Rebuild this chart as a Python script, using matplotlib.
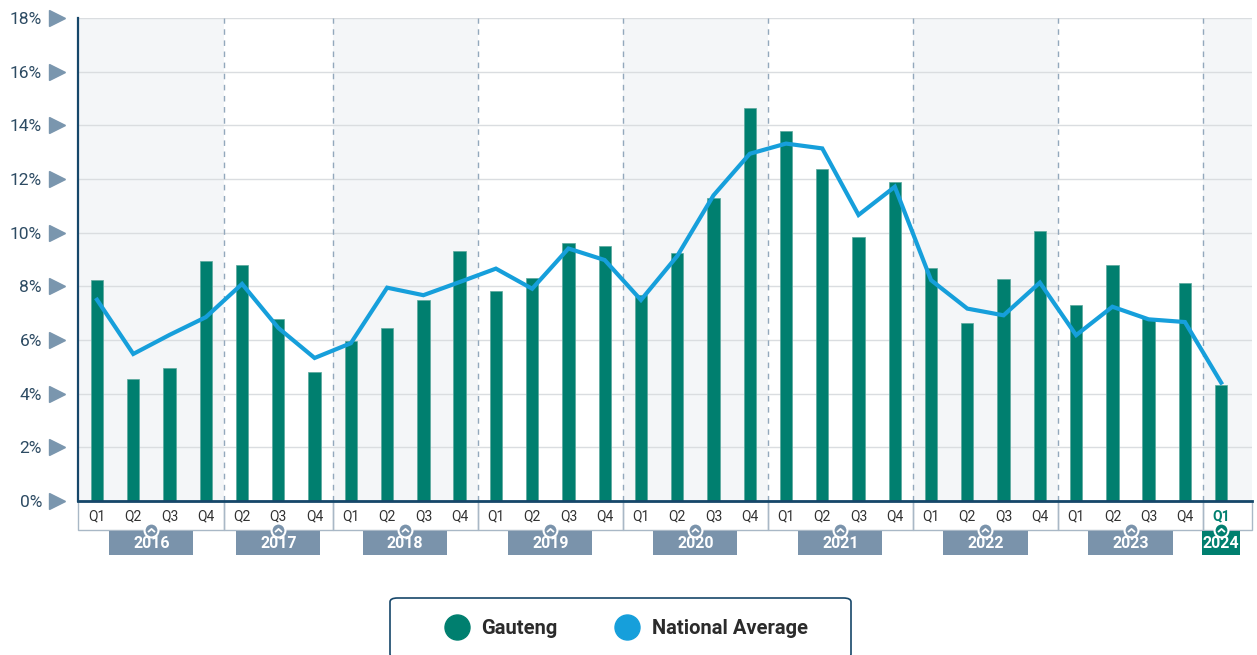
import matplotlib.pyplot as plt
import numpy as np
from matplotlib.patches import Rectangle, FancyBboxPatch
from matplotlib.path import Path
from matplotlib.lines import Line2D
from matplotlib.transforms import blended_transform_factory

plt.rcParams['font.family'] = ['Roboto', 'DejaVu Sans']

# data
years = ["2016", "2017", "2018", "2019", "2020", "2021", "2022", "2023", "2024"]
quarters = [["Q1", "Q2", "Q3", "Q4"], ["Q2", "Q3", "Q4"], ["Q1", "Q2", "Q3", "Q4"],
            ["Q1", "Q2", "Q3", "Q4"], ["Q1", "Q2", "Q3", "Q4"], ["Q1", "Q2", "Q3", "Q4"],
            ["Q1", "Q2", "Q3", "Q4"], ["Q1", "Q2", "Q3", "Q4"], ["Q1"]]
gauteng = [8.24, 4.55, 4.95, 8.96,
           8.80, 6.77, 4.80,
           5.98, 6.46, 7.48, 9.30,
           7.84, 8.32, 9.63, 9.50,
           7.66, 9.25, 11.28, 14.66,
           13.79, 12.38, 9.84, 11.87,
           8.70, 6.65, 8.29, 10.06,
           7.32, 8.78, 6.83, 8.11,
           4.31]
national = [7.50, 5.48, 6.19, 6.85,
            8.09, 6.45, 5.33,
            5.88, 7.95, 7.67, 8.16,
            8.66, 7.91, 9.41, 8.98,
            7.49, 9.13, 11.39, 12.94,
            13.32, 13.14, 10.66, 11.71,
            8.23, 7.17, 6.92, 8.14,
            6.18, 7.24, 6.77, 6.67,
            4.41]

green = "#007f6f"
blue = "#169fdb"
slate = "#7a93ab"
navy = "#16476a"

fig = plt.figure(figsize=(12.57, 6.55), dpi=100)
ax = fig.add_axes([78/1257, 1-501/655, 1174/1257, 483/655])

x = np.arange(len(gauteng))
xmin, xmax = -0.524, 31.85
ax.set_xlim(xmin, xmax)
ax.set_ylim(0, 18)

# group boundaries
starts = np.cumsum([0] + [len(q) for q in quarters])
bounds = [xmin] + [s - 0.5 for s in starts[1:-1]] + [xmax]

for i in range(len(years)):
    if i % 2 == 0:
        ax.axvspan(bounds[i], bounds[i+1], color="#f4f6f8", zorder=0, lw=0)
for b in bounds[1:-1]:
    ax.axvline(b, color="#93a8bc", lw=1, ls=(0, (4, 4)), zorder=1)

ax.set_yticks(np.arange(0, 19, 2))
ax.grid(axis="y", color="#dadde0", lw=1, zorder=1)
ax.set_axisbelow(True)
ax.tick_params(axis="y", length=0, pad=26, labelsize=12.5, labelcolor="#2d4b63")
ax.set_yticklabels([f"{v}%" for v in range(0, 19, 2)])
ax.set_xticks([])

trans = blended_transform_factory(ax.transAxes, ax.transData)
ax.plot([-0.0179]*10, np.arange(0, 19, 2), ls="none", marker=">", ms=11,
        color="#7a96ae", transform=trans, clip_on=False)

for side in ["top", "right"]:
    ax.spines[side].set_visible(False)
ax.spines["left"].set_color(navy)
ax.spines["left"].set_linewidth(1.6)
ax.spines["bottom"].set_color(navy)
ax.spines["bottom"].set_linewidth(2)
ax.spines["left"].set_zorder(5)
ax.spines["bottom"].set_zorder(5)

ax.bar(x, gauteng, width=0.34, color=green, edgecolor="#5aa89d", lw=0.5, zorder=2)
ax.plot(x, national, color=blue, lw=3, zorder=3, solid_joinstyle="miter")

# quarter row and year boxes
tb = blended_transform_factory(ax.transData, ax.transAxes)
row_h = 29/483
chev = Path([(-1, -0.45), (0, 0.45), (1, -0.45)], [Path.MOVETO, Path.LINETO, Path.LINETO])
for i, yr in enumerate(years):
    last = i == len(years) - 1
    ax.add_patch(Rectangle((bounds[i], -row_h), bounds[i+1]-bounds[i], row_h,
                           transform=tb, fill=False, ec="#a9b8c6", lw=1, clip_on=False))
    for j, q in enumerate(quarters[i]):
        xi = starts[i] + j
        ax.text(xi, -15/483, q, transform=tb, ha="center", va="center", fontsize=10,
                color=green if last else "#333333", fontweight="bold" if last else "normal")
    cx = (starts[i] + starts[i+1] - 1) / 2
    w = 1.05 if last else 2.32
    fc = green if last else slate
    ax.add_patch(Rectangle((cx - w/2, -54/483), w, 24/483, transform=tb, fc=fc,
                           ec="none", clip_on=False, zorder=4))
    ax.text(cx, -43/483, yr, transform=tb, ha="center", va="center", fontsize=11.5,
            fontweight="bold", color="white", zorder=6)
    ax.plot([cx], [-29/483], marker="o", ms=10, mfc=fc, mec="white", mew=1.5,
            transform=tb, clip_on=False, zorder=6)
    ax.plot([cx], [-29/483], marker=chev, ms=5, mfc="none", mec="white", mew=1.3,
            transform=tb, clip_on=False, zorder=7)

# legend
fig.add_artist(FancyBboxPatch((390/1257, 1-658/655), 461/1257, 60/655,
                              boxstyle="round,pad=0,rounding_size=0.006",
                              transform=fig.transFigure, fc="white", ec=navy, lw=1.2))
handles = [Line2D([], [], ls="none", marker="o", ms=18, color=green),
           Line2D([], [], ls="none", marker="o", ms=18, color=blue)]
leg = fig.legend(handles, ["Gauteng", "National Average"], loc="center",
                 bbox_to_anchor=(626/1257, 1-629/655), ncol=2, frameon=False,
                 prop={"weight": "bold", "size": 14.5}, handletextpad=0.6,
                 columnspacing=2.9, handlelength=1.2)
for t in leg.get_texts():
    t.set_color("#2b2b2b")

fig.savefig("out.png", dpi=100)
